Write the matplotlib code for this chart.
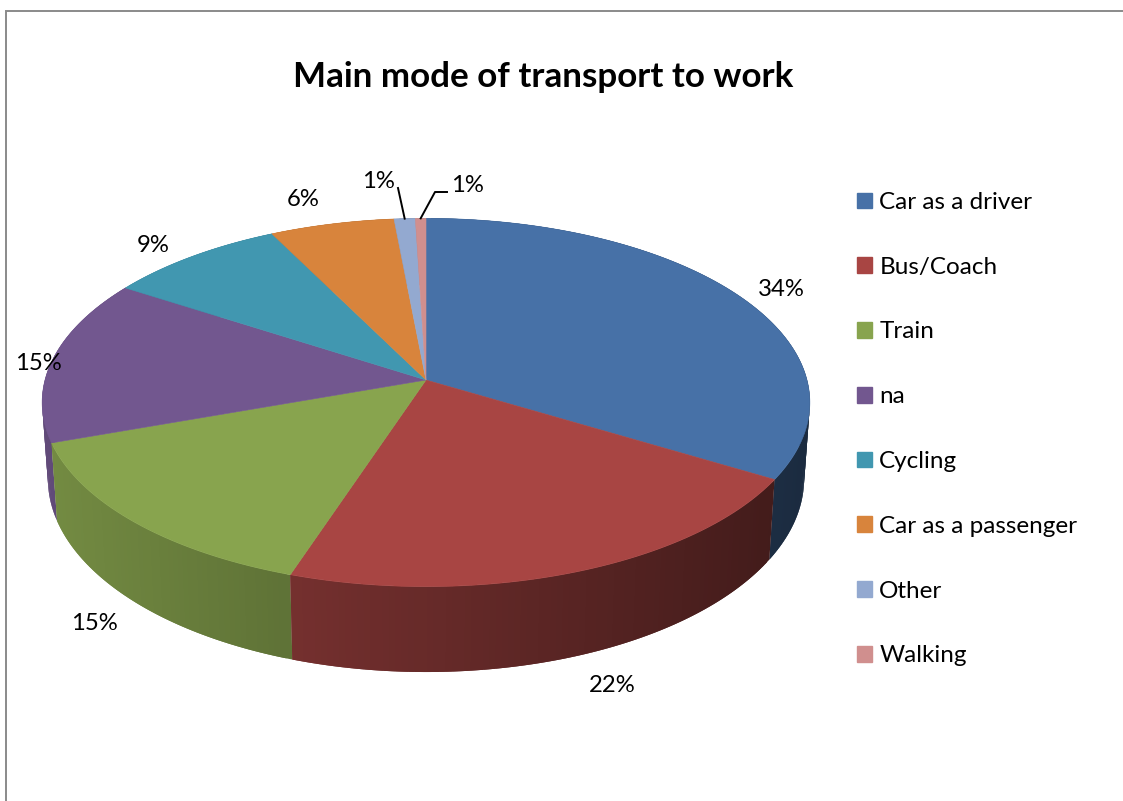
import numpy as np
import matplotlib
matplotlib.use("Agg")
import matplotlib.pyplot as plt
from matplotlib.patches import Polygon, Patch

title = "Main mode of transport to work"
categories = ["Car as a driver", "Bus/Coach", "Train", "na", "Cycling",
              "Car as a passenger", "Other", "Walking"]
values = [33.6, 21.5, 14.5, 14.5, 8.5, 5.9, 1.0, 0.5]
pct_labels = ["34%", "22%", "15%", "15%", "9%", "6%", "1%", "1%"]
colors = ["#4771A7", "#A84543", "#88A44E", "#72578F", "#4197B0", "#D8843C", "#93A9D0", "#D08F8E"]

# label anchor points in figure pixels
label_pos = [(781, 290), (612, 686), (94, 624), (38, 364), (153, 246), (303, 200), (378, 182), (467, 186)]

# geometry of the tilted disc, in figure pixels
CX, CY = 426.0, 380.0
A, B, K = 181.4, 381.0, 0.122
DEPTH = 75.0
BOTTOM_SCALE = 0.985


def top(theta):
    u, v = np.sin(theta), np.cos(theta)
    w = 1 + K * v
    return CX + B * u / w, CY - A * v / w


def bottom(theta):
    u, v = np.sin(theta), np.cos(theta)
    w = 1 + K * v
    return CX + BOTTOM_SCALE * B * u / w, CY - A * v / w + DEPTH / w


def shade(x):
    return np.clip(0.85 - 0.45 * (x - 45) / 730.0, 0.38, 0.88)


fig = plt.figure(figsize=(11.23, 8.01), dpi=100)
ax = fig.add_axes([0, 0, 1, 1])
ax.set_xlim(0, 1123)
ax.set_ylim(801, 0)
ax.axis("off")

plt.rcParams["font.family"] = ["Lato", "DejaVu Sans"]

# frame of the chart
ax.plot([6, 6, 1123], [801, 10.5, 10.5], color="#8a8a8a", lw=1.4, solid_joinstyle="miter")

total = float(sum(values))
edges = 2 * np.pi * np.concatenate([[0.0], np.cumsum(values)]) / total

# side wall: one slice at a time, each band overlapping the next so no seams show
front = [(top(0.5 * (edges[i] + edges[i + 1]))[1], i) for i in range(len(colors))]
for _, i in sorted(front):
    col = colors[i]
    n = max(2, int(np.degrees(edges[i + 1] - edges[i]) * 1.2))
    th = np.linspace(edges[i], edges[i + 1], n + 1)
    rgb0 = np.array(matplotlib.colors.to_rgb(col))
    # paint from the far end of the slice towards its nearest point
    order = np.argsort(top(0.5 * (th[:-1] + th[1:]))[1])
    for k in order:
        a, b = th[k], th[k + 1]
        sa = np.linspace(a, min(b + (b - a), edges[i + 1]), 5)
        xy = list(zip(*top(sa))) + list(zip(*bottom(sa[::-1])))
        rgb = rgb0 * shade(top(0.5 * (a + b))[0])
        ax.add_patch(Polygon(xy, closed=True, facecolor=rgb, edgecolor="none", lw=0))

# top surface
for i, col in enumerate(colors):
    th = np.linspace(edges[i], edges[i + 1], 200)
    xs, ys = top(th)
    xy = np.vstack([[CX, CY], np.column_stack([xs, ys])])
    ax.add_patch(Polygon(xy, closed=True, facecolor=col, edgecolor=col, lw=0.4))

# percentage labels
for (x, y), s in zip(label_pos, pct_labels):
    ax.text(x, y, s, ha="center", va="center", fontsize=17.2, color="black")

# leader lines for the two smallest slices
mid_other = 0.5 * (edges[6] + edges[7])
mid_walk = 0.5 * (edges[7] + edges[8])
xo, yo = top(mid_other)
xw, yw = top(mid_walk)
ax.plot([xo, 398], [yo, 188], color="black", lw=1.4)
ax.plot([xw, 435, 447], [yw, 192, 192], color="black", lw=1.4)

ax.text(543, 77, title, ha="center", va="center", fontsize=25.2, fontweight="bold", color="black")

handles = [Patch(facecolor=c, edgecolor=c) for c in colors]
ax.legend(handles, categories, loc="upper left", bbox_to_anchor=(857, 192), bbox_transform=ax.transData,
          frameon=False, fontsize=17.5, labelspacing=1.8, handlelength=0.62, handleheight=0.62,
          handletextpad=0.3, borderpad=0, borderaxespad=0, labelcolor="black")

fig.savefig("out.png", dpi=100)
